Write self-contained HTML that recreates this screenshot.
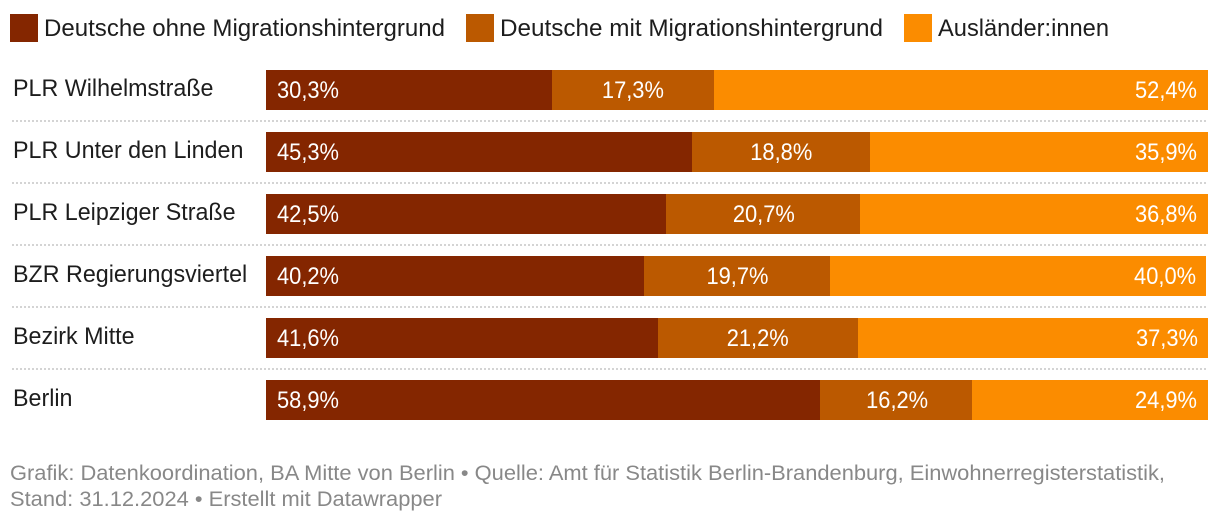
<!DOCTYPE html>
<html lang="de">
<head>
<meta charset="utf-8">
<title>Bevölkerung nach Migrationshintergrund</title>
<style>
html,body{margin:0;padding:0;background:#fff;width:1220px;height:522px;overflow:hidden}
svg{display:block}
text{font-family:"Liberation Sans",sans-serif}
</style>
</head>
<body>
<svg id="chart" xmlns="http://www.w3.org/2000/svg" width="1220" height="522" viewBox="0 0 1220 522" shape-rendering="auto">
  <g>
    <rect x="10" y="14" width="28" height="28" fill="#842600"/>
    <text x="44" y="36" font-size="24" fill="#1d1d1d" textLength="401" lengthAdjust="spacingAndGlyphs">Deutsche ohne Migrationshintergrund</text>
    <rect x="466" y="14" width="28" height="28" fill="#bb5900"/>
    <text x="500" y="36" font-size="24" fill="#1d1d1d" textLength="383" lengthAdjust="spacingAndGlyphs">Deutsche mit Migrationshintergrund</text>
    <rect x="904" y="14" width="28" height="28" fill="#fb8c00"/>
    <text x="938" y="36" font-size="24" fill="#1d1d1d" textLength="171" lengthAdjust="spacingAndGlyphs">Ausländer:innen</text>
  </g>
  <g id="rows"></g>
  <g>
    <text x="10" y="480" font-size="21" fill="#888888" textLength="1155" lengthAdjust="spacingAndGlyphs">Grafik: Datenkoordination, BA Mitte von Berlin • Quelle: Amt für Statistik Berlin-Brandenburg, Einwohnerregisterstatistik,</text>
    <text x="10" y="506" font-size="21" fill="#888888" textLength="432" lengthAdjust="spacingAndGlyphs">Stand: 31.12.2024 • Erstellt mit Datawrapper</text>
  </g>
</svg>
<script>
const categories = ['PLR Wilhelmstraße', 'PLR Unter den Linden', 'PLR Leipziger Straße', 'BZR Regierungsviertel', 'Bezirk Mitte', 'Berlin'];
const ohneMigration = [30.3, 45.3, 42.5, 40.2, 41.6, 58.9];
const mitMigration = [17.3, 18.8, 20.7, 19.7, 21.2, 16.2];
const auslaender = [52.4, 35.9, 36.8, 40.0, 37.3, 24.9];

const NS = 'http://www.w3.org/2000/svg';
const rowsGroup = document.getElementById('rows');
const xLeft = 266;
const xMaxValue = 100;
const unitsPerPercent = 4.71;
const xScale = function (v) { return xLeft + v * 9.42; };
const snapWidth = function (v) { return 2 * Math.round(v * unitsPerPercent); };
const snapEnd = function (v) {
  const clamped = Math.min(Math.round(v * 10) / 10, xMaxValue);
  return xLeft + 2 * Math.floor(clamped * unitsPerPercent + 1e-6);
};
const rowTop = function (i) { return 70 + i * 62; };
const format = function (v) { return v.toFixed(1).replace('.', ',') + '%'; };

function make(tag, attrs, parent) {
  const el = document.createElementNS(NS, tag);
  Object.keys(attrs).forEach(function (k) { el.setAttribute(k, attrs[k]); });
  parent.appendChild(el);
  return el;
}

function fitText(el, ratio) {
  el.setAttribute('textLength', (el.getComputedTextLength() * ratio).toFixed(1));
  el.setAttribute('lengthAdjust', 'spacingAndGlyphs');
}

categories.forEach(function (name, i) {
  const y = rowTop(i);
  const row = make('g', {}, rowsGroup);
  
  

  const label = make('text', { x: 13, y: y + 26, 'font-size': 24, fill: '#1d1d1d' }, row);
  label.textContent = name;
  
  
  fitText(label, 0.97);

  const a = ohneMigration[i], b = mitMigration[i], c = auslaender[i];
  const x0 = xLeft;
  const x1 = x0 + snapWidth(a);
  const x2 = x1 + snapWidth(b);
  const x3 = snapEnd(a + b + c);

  const bar1 = make('rect', { x: x0, y: y, width: x1 - x0, height: 40, fill: '#842600' }, row);
  
  

  const bar2 = make('rect', { x: x1, y: y, width: x2 - x1, height: 40, fill: '#bb5900' }, row);
  
  

  const bar3 = make('rect', { x: x2, y: y, width: x3 - x2, height: 40, fill: '#fb8c00' }, row);
  
  

  const t1 = make('text', { x: x0 + 11, y: y + 28, 'font-size': 24, fill: '#fff', textLength: 62, lengthAdjust: 'spacingAndGlyphs' }, row);
  t1.textContent = format(a);
  
  

  const t2 = make('text', { x: xScale(a + b / 2) - 31, y: y + 28, 'font-size': 24, fill: '#fff', textLength: 62, lengthAdjust: 'spacingAndGlyphs' }, row);
  t2.textContent = format(b);
  
  

  const t3 = make('text', { x: xScale(a + b + c) - 11 - 62, y: y + 28, 'font-size': 24, fill: '#fff', textLength: 62, lengthAdjust: 'spacingAndGlyphs' }, row);
  t3.textContent = format(c);
  
  

  if (i < categories.length - 1) {
    const sep = make('line', { x1: 12, x2: 1208, y1: y + 51, y2: y + 51, stroke: '#d4d4d4', 'stroke-width': 2, 'stroke-dasharray': '2 2' }, row);
    
    
  }
});
</script>
</body>
</html>
